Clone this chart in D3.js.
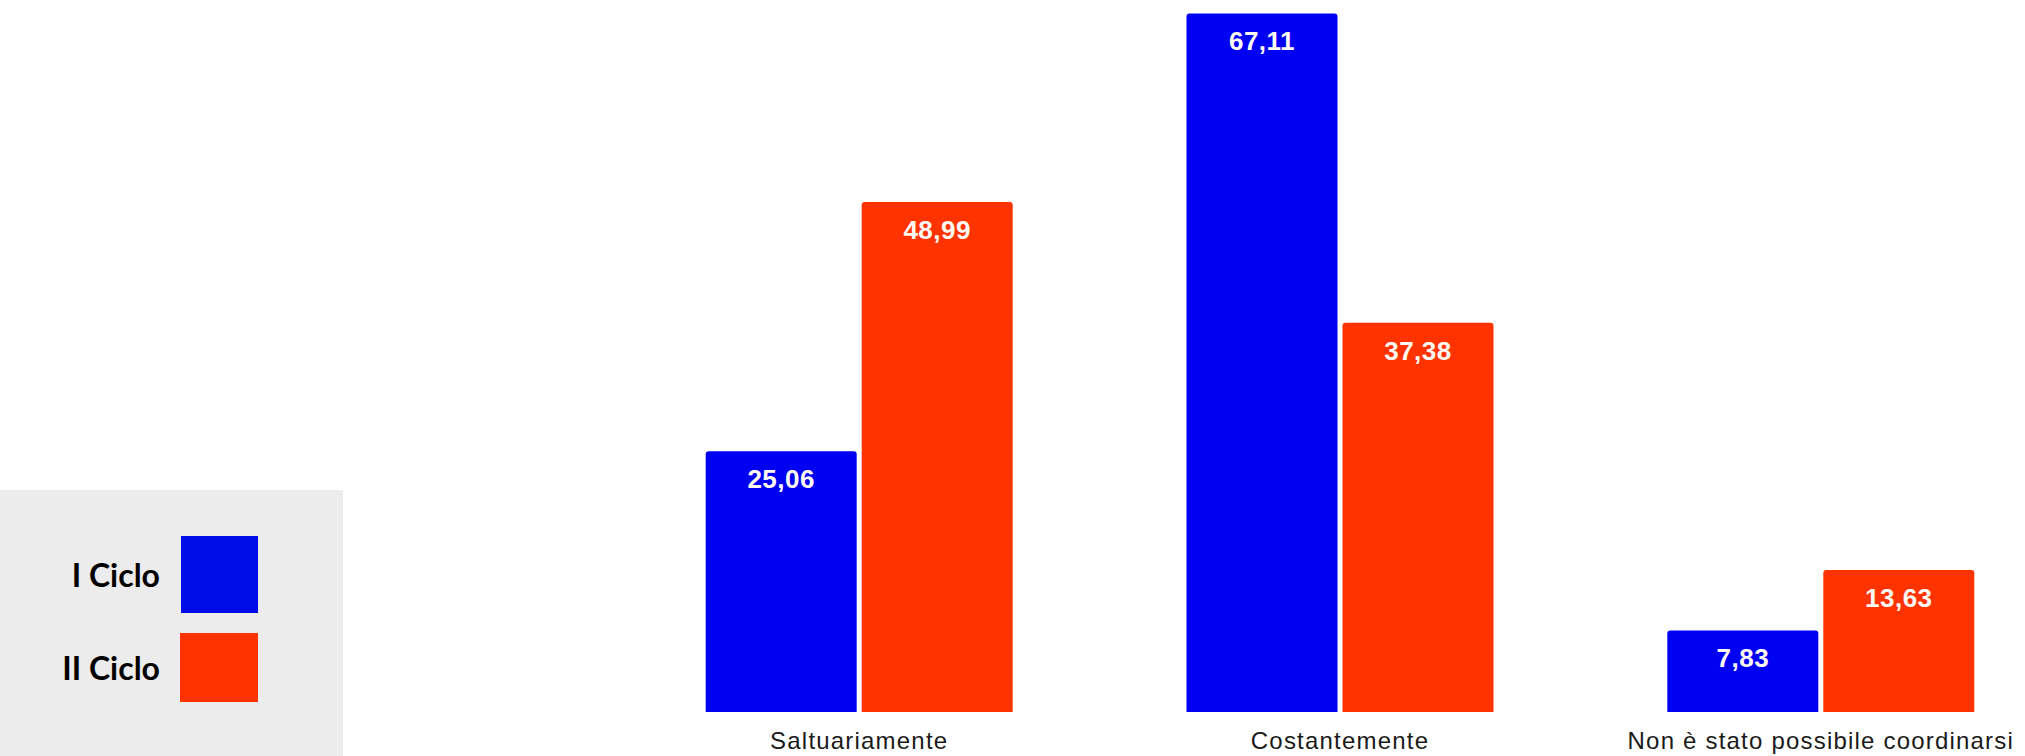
<!DOCTYPE html>
<html>
<head>
<meta charset="utf-8">
<script src="https://cdn.jsdelivr.net/npm/d3@7"></script>
<style>
  html, body { margin: 0; padding: 0; background: #ffffff; }
  svg { display: block; }
</style>
</head>
<body>
<svg id="chart" width="2025" height="756"></svg>
<script>
const categories = ["Saltuariamente", "Costantemente", "Non è stato possibile coordinarsi"];
const seriesNames = ["I Ciclo", "II Ciclo"];
const ciclo1 = [25.06, 67.11, 7.83];
const ciclo2 = [48.99, 37.38, 13.63];
const valueLabels1 = ["25,06", "67,11", "7,83"];
const valueLabels2 = ["48,99", "37,38", "13,63"];
const colors = ["#0000F2", "#FF3300"];

const svg = d3.select("#chart");
const W = 2025, H = 756;
const baseY = 712;

const x0 = d3.scaleBand().domain(categories).range([618.8, 2061.2])
  .paddingInner(0.3615).paddingOuter(0.3615 / 2);
const x1 = d3.scaleBand().domain(seriesNames).range([0, x0.bandwidth()])
  .paddingInner(0.032).paddingOuter(0);
const y = d3.scaleLinear().domain([0, 70]).range([baseY, baseY - 70 * 10.41]);

const rows = [];
categories.forEach((c, i) => {
  rows.push({cat: c, s: seriesNames[0], v: ciclo1[i], lab: valueLabels1[i], col: colors[0]});
  rows.push({cat: c, s: seriesNames[1], v: ciclo2[i], lab: valueLabels2[i], col: colors[1]});
});

function topRounded(x, yTop, w, h, r) {
  return `M${x},${yTop + h} L${x},${yTop + r} Q${x},${yTop} ${x + r},${yTop} ` +
         `L${x + w - r},${yTop} Q${x + w},${yTop} ${x + w},${yTop + r} L${x + w},${yTop + h} Z`;
}

const g = svg.append("g");
g.selectAll("path.bar").data(rows).join("path")
  .attr("class", "bar")
  .attr("fill", d => d.col)
  .attr("d", d => {
    const xx = x0(d.cat) + x1(d.s);
    const yy = y(d.v);
    return topRounded(xx, yy, x1.bandwidth(), baseY - yy, 3);
  });

g.selectAll("text.val").data(rows).join("text")
  .attr("class", "val")
  .attr("x", d => x0(d.cat) + x1(d.s) + x1.bandwidth() / 2)
  .attr("y", d => y(d.v) + 37)
  .attr("text-anchor", "middle")
  .attr("fill", "#fffaf5")
  .style("font-family", "'Liberation Sans', Arial, sans-serif")
  .style("font-weight", "bold")
  .style("font-size", "26px")
  .style("letter-spacing", "0.5px")
  .text(d => d.lab);

const axis = svg.append("g")
  .attr("transform", `translate(0,${baseY})`)
  .call(d3.axisBottom(x0).tickSize(0).tickPadding(20));
axis.select(".domain").remove();
axis.selectAll("text")
  .attr("fill", "#1a1a1a")
  .style("font-family", "'Liberation Sans', Arial, sans-serif")
  .style("font-size", "24px")
  .style("letter-spacing", "1.2px");

// Legend
const leg = svg.append("g");
leg.append("rect").attr("x", 0).attr("y", 490).attr("width", 343).attr("height", 266).attr("fill", "#ececec");
const legItems = [
  {name: seriesNames[0], col: "#000CE8", sx: 181, sy: 536, sw: 77, sh: 77, ty: 587},
  {name: seriesNames[1], col: "#FF3300", sx: 180, sy: 633, sw: 78, sh: 69, ty: 680}
];
leg.selectAll("rect.sw").data(legItems).join("rect")
  .attr("class", "sw")
  .attr("x", d => d.sx).attr("y", d => d.sy)
  .attr("width", d => d.sw).attr("height", d => d.sh)
  .attr("fill", d => d.col);
leg.selectAll("text.lg").data(legItems).join("text")
  .attr("class", "lg")
  .attr("x", 160).attr("y", d => d.ty)
  .attr("text-anchor", "end")
  .attr("fill", "#000")
  .style("font-family", "Lato, 'Open Sans', sans-serif")
  .style("font-weight", "bold")
  .style("font-size", "32px")
  .text(d => d.name);
</script>
</body>
</html>
